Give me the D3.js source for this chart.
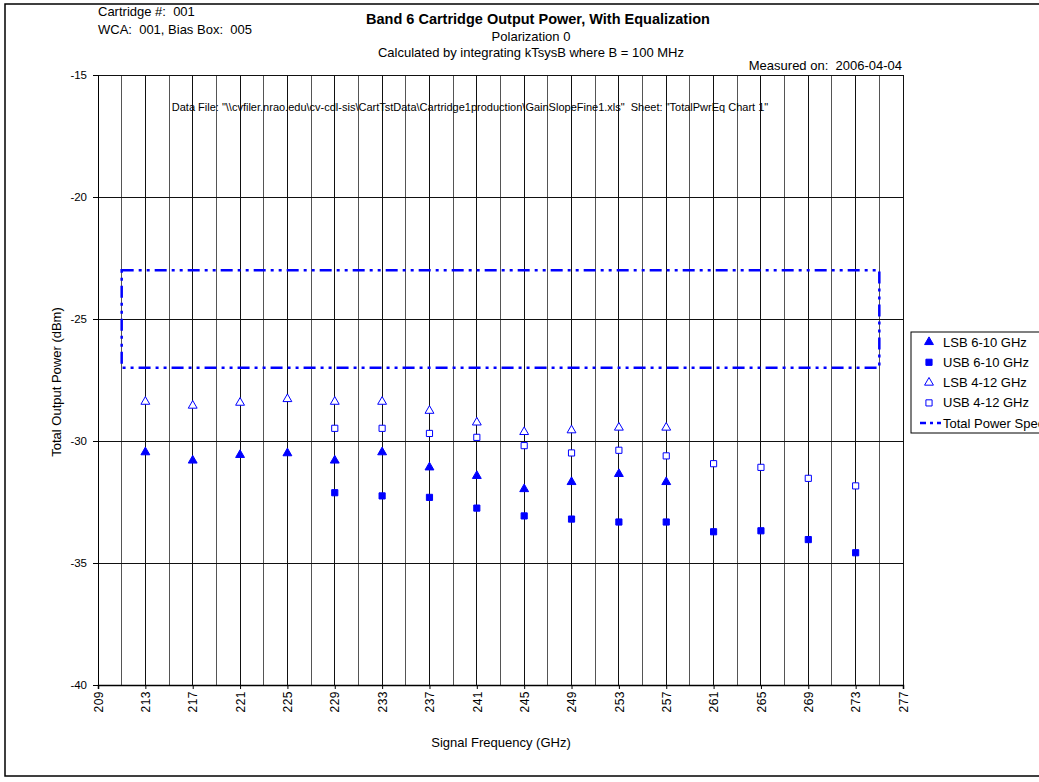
<!DOCTYPE html>
<html>
<head>
<meta charset="utf-8">
<script src="https://cdn.jsdelivr.net/npm/d3@7"></script>
<style>
  body { margin: 0; background: #fff; }
  text { font-family: "Liberation Sans", Arial, sans-serif; fill: #000; }
</style>
</head>
<body>
<div id="d3"></div>
<script>
// data
var freqLsb = [213, 217, 221, 225, 229, 233, 237, 241, 245, 249, 253, 257];
var freqUsb = [229, 233, 237, 241, 245, 249, 253, 257, 261, 265, 269, 273];
var lsb610 = [-30.46, -30.8, -30.57, -30.5, -30.8, -30.46, -31.08, -31.43, -31.97, -31.68, -31.35, -31.68];
var usb610 = [-32.12, -32.25, -32.31, -32.75, -33.07, -33.2, -33.32, -33.32, -33.72, -33.68, -34.04, -34.58];
var lsb412 = [-28.39, -28.55, -28.43, -28.28, -28.39, -28.39, -28.76, -29.24, -29.63, -29.56, -29.45, -29.45];
var usb412 = [-29.48, -29.48, -29.69, -29.85, -30.19, -30.49, -30.38, -30.61, -30.93, -31.08, -31.53, -31.84];
var specFreq = [211, 275];
var specLevel = [-23, -27];
var xTicks = [209, 213, 217, 221, 225, 229, 233, 237, 241, 245, 249, 253, 257, 261, 265, 269, 273, 277];
var yTicks = [-40, -35, -30, -25, -20, -15];
var legendNames = ["LSB 6-10 GHz", "USB 6-10 GHz", "LSB 4-12 GHz", "USB 4-12 GHz", "Total Power Spec"];

var blue = "#0000ff";

var svg = d3.select("#d3").append("svg")
        .attr("width", 1039)
        .attr("height", 782);

// outer chart border
svg.append("rect")
        .attr("x", 5).attr("y", 4)
        .attr("width", 1100).attr("height", 772)
        .attr("fill", "white")
        .attr("stroke", "black")
        .attr("stroke-width", 1.5);

var x = d3.scaleLinear().domain([209, 277]).range([98, 903]);
var y = d3.scaleLinear().domain([-40, -15]).range([685, 75]);

// grid
svg.append("g").selectAll("line")
        .data(d3.range(209, 278, 2)).enter()
        .append("line")
        .attr("x1", function(d) { return x(d); })
        .attr("x2", function(d) { return x(d); })
        .attr("y1", y(-15))
        .attr("y2", y(-40))
        .attr("stroke", function(d, i) { return i % 2 ? "#555" : "#111"; })
        .attr("stroke-width", 1)
        .attr("shape-rendering", "crispEdges");

svg.append("g").selectAll("line")
        .data(yTicks).enter()
        .append("line")
        .attr("x1", x(209))
        .attr("x2", x(277))
        .attr("y1", function(d) { return y(d); })
        .attr("y2", function(d) { return y(d); })
        .attr("stroke", "#111")
        .attr("stroke-width", 1)
        .attr("shape-rendering", "crispEdges");

// axes
var yAxis = svg.append("g")
        .attr("transform", "translate(" + x(209) + ",0)")
        .call(d3.axisLeft(y).tickValues(yTicks).tickSize(5).tickPadding(6)
            .tickFormat(function(d) { return d; }));
yAxis.select(".domain").attr("stroke", "black");
yAxis.selectAll("text").attr("font-size", "11.5px")
        .attr("font-family", "Liberation Sans, Arial, sans-serif");

var xAxis = svg.append("g")
        .attr("transform", "translate(0," + y(-40) + ")")
        .call(d3.axisBottom(x).tickValues(xTicks).tickSize(4)
            .tickFormat(function(d) { return d; }));
xAxis.select(".domain").attr("stroke", "black").attr("stroke-width", 1.5);
xAxis.selectAll("text")
        .attr("font-size", "12px")
        .attr("font-family", "Liberation Sans, Arial, sans-serif")
        .attr("letter-spacing", "0.5px")
        .attr("transform", "rotate(-90)")
        .attr("text-anchor", "end")
        .attr("x", -6)
        .attr("y", 0)
        .attr("dy", "0.35em");

// spec box
var specPts = [
        [specFreq[0], specLevel[0]], [specFreq[1], specLevel[0]],
        [specFreq[1], specLevel[1]], [specFreq[0], specLevel[1]]];
svg.append("path")
        .attr("d", d3.line()
            .x(function(d) { return x(d[0]); })
            .y(function(d) { return y(d[1]); })
            .curve(d3.curveLinearClosed)(specPts))
        .attr("fill", "none")
        .attr("stroke", blue)
        .attr("stroke-width", 2.5)
        .attr("stroke-dasharray", "12,5,3,5,3,5");

// markers
var triUp = d3.symbol().type(d3.symbolTriangle).size(34);
var sq = d3.symbol().type(d3.symbolSquare).size(38);

function drawSeries(fr, vals, sym, filled) {
    svg.append("g").selectAll("path")
            .data(vals).enter()
            .append("path")
            .attr("d", sym)
            .attr("transform", function(d, i) {
                return "translate(" + x(fr[i]) + "," + y(d) + ")";
        })
            .attr("fill", filled ? blue : "white")
            .attr("stroke", blue)
            .attr("stroke-width", 1);
}
drawSeries(freqLsb, lsb610, triUp, true);
drawSeries(freqUsb, usb610, sq, true);
drawSeries(freqLsb, lsb412, triUp, false);
drawSeries(freqUsb, usb412, sq, false);

// titles
svg.append("text")
        .attr("x", 538).attr("y", 24)
        .attr("text-anchor", "middle")
        .attr("font-size", "14.5px")
        .attr("font-weight", "bold")
        .text("Band 6 Cartridge Output Power, With Equalization");
svg.append("text")
        .attr("x", 531).attr("y", 41)
        .attr("text-anchor", "middle")
        .attr("font-size", "13px")
        .text("Polarization 0");
svg.append("text")
        .attr("x", 531).attr("y", 57)
        .attr("text-anchor", "middle")
        .attr("font-size", "13px")
        .text("Calculated by integrating kTsysB where B = 100 MHz");
svg.append("text")
        .attr("x", 98).attr("y", 16)
        .attr("font-size", "13px")
        .attr("xml:space", "preserve")
        .text("Cartridge #:  001");
svg.append("text")
        .attr("x", 98).attr("y", 34)
        .attr("font-size", "13px")
        .attr("xml:space", "preserve")
        .text("WCA:  001, Bias Box:  005");
svg.append("text")
        .attr("x", 902).attr("y", 70)
        .attr("text-anchor", "end")
        .attr("font-size", "13px")
        .attr("xml:space", "preserve")
        .text("Measured on:  2006-04-04");
svg.append("text")
        .attr("x", 470).attr("y", 111)
        .attr("text-anchor", "middle")
        .attr("font-size", "11px")
        .attr("xml:space", "preserve")
        .text("Data File: \"\\\\cvfiler.nrao.edu\\cv-cdl-sis\\CartTstData\\Cartridge1production\\GainSlopeFine1.xls\"  Sheet: \"TotalPwrEq Chart 1\"");

// axis titles
svg.append("text")
        .attr("x", 501).attr("y", 747)
        .attr("text-anchor", "middle")
        .attr("font-size", "13px")
        .text("Signal Frequency (GHz)");
svg.append("text")
        .attr("transform", "translate(61,382) rotate(-90)")
        .attr("text-anchor", "middle")
        .attr("font-size", "13px")
        .text("Total Output Power (dBm)");

// legend
var lg = svg.append("g");
lg.append("rect")
        .attr("x", 911).attr("y", 332)
        .attr("width", 160).attr("height", 101)
        .attr("fill", "white")
        .attr("stroke", "black")
        .attr("stroke-width", 1);
var legSyms = [
        {sym: triUp, filled: true}, {sym: sq, filled: true},
        {sym: triUp, filled: false}, {sym: sq, filled: false}];
lg.selectAll("path.m")
        .data(legSyms).enter()
        .append("path")
        .attr("class", "m")
        .attr("d", function(d) { return d.sym(); })
        .attr("transform", function(d, i) { return "translate(929," + (342 + i * 20.3) + ")"; })
        .attr("fill", function(d) { return d.filled ? blue : "white"; })
        .attr("stroke", blue);
lg.append("line")
        .attr("x1", 920).attr("x2", 941)
        .attr("y1", 423).attr("y2", 423)
        .attr("stroke", blue)
        .attr("stroke-width", 2.5)
        .attr("stroke-dasharray", "6,4,3,4");
lg.selectAll("text")
        .data(legendNames).enter()
        .append("text")
        .attr("x", 943)
        .attr("y", function(d, i) { return 346.5 + i * 20.3; })
        .attr("font-size", "13px")
        .text(function(d) { return d; });
</script>
</body>
</html>
